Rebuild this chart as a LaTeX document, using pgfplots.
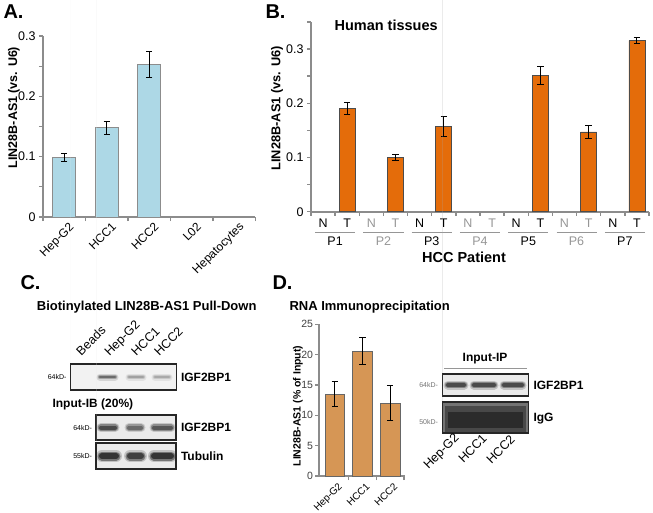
\documentclass[border=0pt]{standalone}
\usepackage{pgfplots}
\pgfplotsset{compat=1.18}
\usepackage{fontspec}
\setmainfont{Liberation Sans}
\definecolor{axgray}{RGB}{140,140,140}
\definecolor{lgray}{RGB}{150,150,150}
\definecolor{lblue}{RGB}{173,216,230}
\definecolor{orng}{RGB}{228,108,10}
\definecolor{tanbar}{RGB}{214,150,85}
\newcommand{\fs}[1]{\fontsize{#1}{#1}\selectfont}
\pgfplotsset{
  panel/.style={
    scale only axis, ybar, axis x line*=bottom, axis y line*=left,
    axis line style={axgray, line width=1.6pt, -},
    tick align=outside, major tick length=4pt, minor tick length=4pt,
    every tick/.style={axgray, line width=1.3pt},
    major x tick style={draw=none},
    yticklabel style={font=\fs{12.5}, text=black},
    clip=false,
  },
  ebars/.style={error bars/.cd, y dir=both, y explicit,
    error bar style={black, line width=1pt},
    error mark options={black, line width=1pt, rotate=90, mark size=3.2pt}},
}
% blot band macros (drawn inside overlay axis)
\newcommand{\bandS}[4]{%
  \addplot[no marks, line cap=round, line width=7pt, #4, opacity=0.15] coordinates {(#1,#3) (#2,#3)};
  \addplot[no marks, line cap=round, line width=4.5pt, #4, opacity=0.3] coordinates {(#1,#3) (#2,#3)};
  \addplot[no marks, line cap=round, line width=2.5pt, #4, opacity=0.5] coordinates {(#1,#3) (#2,#3)};
}
\newcommand{\bandM}[4]{%
  \addplot[no marks, line cap=round, line width=9pt, #4, opacity=0.2] coordinates {(#1,#3) (#2,#3)};
  \addplot[no marks, line cap=round, line width=6.5pt, #4, opacity=0.4] coordinates {(#1,#3) (#2,#3)};
  \addplot[no marks, line cap=round, line width=4pt, #4, opacity=0.6] coordinates {(#1,#3) (#2,#3)};
}
\newcommand{\bandL}[4]{%
  \addplot[no marks, line cap=round, line width=12pt, #4, opacity=0.2] coordinates {(#1,#3) (#2,#3)};
  \addplot[no marks, line cap=round, line width=9pt, #4, opacity=0.45] coordinates {(#1,#3) (#2,#3)};
  \addplot[no marks, line cap=round, line width=6pt, #4, opacity=0.7] coordinates {(#1,#3) (#2,#3)};
}
\newcommand{\blotbox}[5]{% x1 x2 y1 y2 fill
  \addplot[draw=none, fill=#5] coordinates {(#1,#3) (#2,#3) (#2,#4) (#1,#4)} \closedcycle;
}
\newcommand{\blotframe}[4]{%
  \addplot[no marks, draw=black!85, line width=1.2pt] coordinates {(#1,#3) (#2,#3) (#2,#4) (#1,#4) (#1,#3) (#2,#3)};
}
\begin{document}
\begin{tikzpicture}
\useasboundingbox (0,0) rectangle (653pt,-513pt);

% ---------------- Panel A ----------------
\begin{axis}[panel, at={(43pt,-217pt)}, anchor=south west,
  width=212.5pt, height=181pt,
  xmin=-0.5, xmax=4.5, ymin=0, ymax=0.3, bar width=23pt,
  xtick={0,...,4}, xticklabels={Hep-G2,HCC1,HCC2,L02,Hepatocytes},
  minor xtick={-0.5,0.5,...,4.5},
  ytick={0,0.1,0.2,0.3}, yticklabels={0,0.1,0.2,0.3},
  minor ytick={0.05,0.15,0.25},
  xticklabel style={rotate=45, anchor=north east, font=\fs{12}, xshift=6pt},
]
\addplot[fill=lblue, draw=gray!90, line width=0.8pt, ebars] coordinates {
  (0,0.0985) +- (0,0.007)
  (1,0.148) +- (0,0.011)
  (2,0.2535) +- (0,0.0215)
};
\end{axis}

% ---------------- Panel B ----------------
\begin{axis}[panel, at={(311pt,-211.7pt)}, anchor=south west,
  width=338pt, height=189.8pt,
  xmin=-0.5, xmax=13.5, ymin=0, ymax=0.35, bar width=16pt,
  xtick={0,...,13},
  xticklabels={N,T,\textcolor{lgray}{N},\textcolor{lgray}{T},N,T,\textcolor{lgray}{N},\textcolor{lgray}{T},N,T,\textcolor{lgray}{N},\textcolor{lgray}{T},N,T},
  minor xtick={-0.5,0.5,...,13.5},
  ytick={0,0.1,0.2,0.3}, yticklabels={0,0.1,0.2,0.3},
  minor ytick={0.05,0.15,0.25,0.35},
  xticklabel style={font=\fs{12.5}},
]
\addplot[fill=orng, draw=black!70, line width=0.8pt, ebars] coordinates {
  (1,0.1905) +- (0,0.0117)
  (3,0.0996) +- (0,0.006)
  (5,0.1567) +- (0,0.018)
  (9,0.2514) +- (0,0.0166)
  (11,0.147) +- (0,0.0126)
  (13,0.3153) +- (0,0.006)
};
\end{axis}

% ---------------- Panel D chart ----------------
\begin{axis}[panel, at={(319pt,-476pt)}, anchor=south west,
  width=86.4pt, height=151.7pt,
  xmin=-0.57, xmax=2.55, ymin=0, ymax=25, bar width=19.5pt,
  xtick={0,1,2}, xticklabels={Hep-G2,HCC1,HCC2},
  minor xtick={0.5,1.5,2.5},
  ytick={0,5,...,25}, yticklabels={0,5,10,15,20,25},
  yticklabel style={font=\fs{10.5}, text=black!75, xshift=1.5pt},
  xticklabel style={rotate=45, anchor=north east, font=\fs{10}, xshift=4pt},
]
\addplot[fill=tanbar, draw=black!60, line width=0.8pt, ebars] coordinates {
  (0,13.5) +- (0,2.0)
  (1,20.6) +- (0,2.2)
  (2,12.0) +- (0,2.9)
};
\end{axis}

% ---------------- Overlay: text, blots ----------------
\begin{axis}[at={(0pt,0pt)}, anchor=north west, scale only axis,
  width=653pt, height=513pt, xmin=0, xmax=653, ymin=0, ymax=513,
  y dir=reverse, hide axis, clip=false]
% panel letters
\node[anchor=north west, font=\bfseries\fs{20}] at (0,1) {A.};
\node[anchor=north west, font=\bfseries\fs{20}] at (262,1) {B.};
\node[anchor=north west, font=\bfseries\fs{20}] at (17,272) {C.};
\node[anchor=north west, font=\bfseries\fs{20}] at (269,272) {D.};
% A
\node[rotate=90, font=\bfseries\fs{12.5}] at (14,107.5) {LIN28B-AS1 (vs. U6)};
% B
\node[anchor=west, font=\bfseries\fs{14.5}] at (331,25.7) {Human tissues};
\node[rotate=90, font=\bfseries\fs{12.8}] at (277,108.3) {LIN28B-AS1 (vs. U6)};
\addplot[no marks, lgray, line width=1.2pt] coordinates {(315,232.7) (355,232.7)};
\addplot[no marks, lgray, line width=1.2pt] coordinates {(363.3,232.7) (403.5,232.7)};
\addplot[no marks, lgray, line width=1.2pt] coordinates {(411.6,232.7) (451.8,232.7)};
\addplot[no marks, lgray, line width=1.2pt] coordinates {(459.9,232.7) (500.1,232.7)};
\addplot[no marks, lgray, line width=1.2pt] coordinates {(508.2,232.7) (548.4,232.7)};
\addplot[no marks, lgray, line width=1.2pt] coordinates {(556.5,232.7) (596.7,232.7)};
\addplot[no marks, lgray, line width=1.2pt] coordinates {(604.8,232.7) (645,232.7)};
\node[font=\fs{12.5}] at (335.1,241) {P1};
\node[font=\fs{12.5}, text=lgray] at (383.4,241) {P2};
\node[font=\fs{12.5}] at (431.7,241) {P3};
\node[font=\fs{12.5}, text=lgray] at (480,241) {P4};
\node[font=\fs{12.5}] at (528.3,241) {P5};
\node[font=\fs{12.5}, text=lgray] at (576.5,241) {P6};
\node[font=\fs{12.5}] at (624.8,241) {P7};
\node[font=\bfseries\fs{14.5}] at (464,257) {HCC Patient};
% C
\node[font=\bfseries\fs{13}] at (146.7,307) {Biotinylated LIN28B-AS1 Pull-Down};
\node[rotate=45, anchor=base west, font=\fs{12.5}] at (79,359) {Beads};
\node[rotate=45, anchor=base west, font=\fs{12.5}] at (107,359) {Hep-G2};
\node[rotate=45, anchor=base west, font=\fs{12.5}] at (134,359) {HCC1};
\node[rotate=45, anchor=base west, font=\fs{12.5}] at (157,359) {HCC2};
\blotbox{70.7}{176.7}{364}{390}{black!5}
\bandS{100}{115}{377}{black!80}
\bandS{129}{143}{377}{black!50}
\bandS{155}{169}{377}{black!45}
\blotframe{70.7}{176.7}{364}{390}
\node[anchor=east, font=\fs{7}] at (70,377) {64kD-};
\node[anchor=west, font=\bfseries\fs{12}] at (177.5,377) {IGF2BP1};
\node[anchor=west, font=\bfseries\fs{12}] at (49,404) {Input-IB (20\%)};
\blotbox{96}{176}{415}{440}{black!8}
\bandM{101}{115}{427.5}{black!85}
\bandM{129}{141}{427.5}{black!70}
\bandM{154}{171}{427.5}{black!80}
\blotframe{96}{176}{415}{440}
\node[anchor=east, font=\fs{7}] at (95.5,427.5) {64kD-};
\node[anchor=west, font=\bfseries\fs{12}] at (177.5,427.5) {IGF2BP1};
\blotbox{96}{176}{443}{469}{black!8}
\bandL{102}{116}{456}{black!90}
\bandL{130}{141}{456}{black!85}
\bandL{154}{171}{456}{black!90}
\blotframe{96}{176}{443}{469}
\node[anchor=east, font=\fs{7}] at (95.5,456) {55kD-};
\node[anchor=west, font=\bfseries\fs{12}] at (177.5,456) {Tubulin};
% D
\node[anchor=west, font=\bfseries\fs{13}] at (286,307) {RNA Immunoprecipitation};
\node[rotate=90, font=\bfseries\fs{10.5}] at (298,406) {LIN28B-AS1 (\% of Input)};
\node[font=\bfseries\fs{12}] at (485,359) {Input-IP};
\addplot[no marks, lgray, line width=1.2pt] coordinates {(444,368.3) (527,368.3)};
\blotbox{442.5}{528.3}{374}{396}{black!8}
\bandM{448}{464}{385}{black!85}
\bandM{474}{494}{385}{black!85}
\bandM{504}{522}{385}{black!85}
\blotframe{442.5}{528.3}{374}{396}
\node[anchor=east, font=\fs{7}, text=black!55] at (441.5,385) {64kD-};
\node[anchor=west, font=\bfseries\fs{12}] at (530,385) {IGF2BP1};
\blotbox{442.5}{528.3}{402}{433}{black!55}
\addplot[no marks, line width=26pt, black!85, opacity=0.55] coordinates {(445,419) (526,419)};
\addplot[no marks, line width=16pt, black!90, opacity=0.6] coordinates {(448,420) (523,420)};
\blotframe{442.5}{528.3}{402}{433}
\node[anchor=east, font=\fs{7}, text=black!55] at (441.5,421.5) {50kD-};
\node[anchor=west, font=\bfseries\fs{12}] at (530,419) {IgG};
\node[rotate=45, anchor=base west, font=\fs{12.5}] at (426,472) {Hep-G2};
\node[rotate=45, anchor=base west, font=\fs{12.5}] at (461,466) {HCC1};
\node[rotate=45, anchor=base west, font=\fs{12.5}] at (489,467) {HCC2};
\end{axis}
\end{tikzpicture}
\end{document}
